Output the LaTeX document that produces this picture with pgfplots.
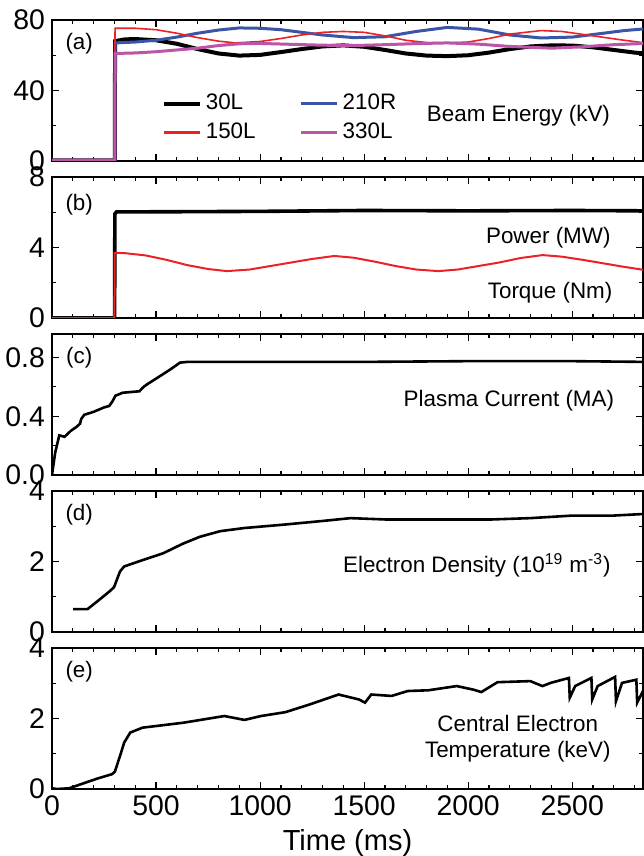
\documentclass[border=0pt]{standalone}
\usepackage{fontspec}
\setmainfont{Liberation Sans}
\usepackage{pgfplots}
\pgfplotsset{compat=1.18}

\definecolor{bred}{RGB}{237,32,36}
\definecolor{bblue}{RGB}{58,84,168}
\definecolor{bmag}{RGB}{188,84,168}

\pgfplotsset{
  panel/.style={
    scale only axis, width=295.5pt, height=70.5pt,
    xmin=0, xmax=2840,
    xtick={0,500,...,3000}, minor xtick={0,100,...,2800},
    xticklabels={},
    axis line style={line width=0.9pt},
    major tick length=3.5pt, minor tick length=2pt,
    tick style={line width=0.6pt, black},
    every tick label/.append style={font=\fontsize{14.2}{16}\selectfont},
    /pgf/number format/assume math mode=true,
  },
}
\tikzset{note/.style={font=\fontsize{11.2}{13}\selectfont}}

\begin{document}
\begin{tikzpicture}
\path[use as bounding box] (-26pt,-33.5pt) rectangle (295.8pt,394.5pt);

% (a) beam energy
\begin{axis}[panel, at={(0pt,314pt)},
  ymin=0, ymax=80, ytick={0,40,80}, minor ytick={20,60},
  legend columns=2,
  legend cell align=left,
  legend style={draw=none, fill=none, at={(0.175,0.305)}, anchor=west,
    font=\fontsize{11.2}{13.5}\selectfont, row sep=1pt,
    /tikz/every even column/.append style={column sep=20pt}},
  legend image code/.code={\draw[#1] (0pt,0pt) -- (18pt,0pt);},
]
\addplot[black, line width=2pt, forget plot] coordinates {
 (0,0.4) (302,0.4) (303,68) (350,69) (400,69.2) (500,68.5) (600,66.5) (700,63.5)
 (800,61) (900,59.8) (1000,60.2) (1100,61.8) (1200,63.5) (1300,65) (1400,65.6)
 (1500,64.8) (1600,63) (1700,61) (1800,59.8) (1900,59.5) (2000,60) (2100,61.5)
 (2200,63.5) (2300,65) (2400,65.6) (2500,65.5) (2600,64.5) (2700,63) (2800,61.5) (2850,61)};
\addplot[bblue, line width=1.5pt, forget plot] coordinates {
 (0,0.3) (302,0.3) (303,67) (400,67.5) (500,68.5) (600,70.3) (700,72.5) (800,74.3)
 (900,75.5) (1000,75.3) (1100,74.5) (1200,73) (1300,71.5) (1450,70) (1600,70.5)
 (1750,73.5) (1900,75.8) (2050,74.8) (2200,71.5) (2350,69.8) (2500,70.3)
 (2650,72.5) (2750,74) (2850,75)};
\addplot[bred, line width=0.8pt, forget plot] coordinates {
 (0,0.3) (302,0.3) (303,75.3) (400,75.3) (500,74.5) (600,72.5) (700,70) (800,68)
 (880,67) (1000,67.8) (1100,69.5) (1200,71.5) (1300,73) (1400,73.5) (1500,73)
 (1600,71) (1700,68.5) (1800,67.2) (1900,67) (2000,67.5) (2100,69.5) (2200,72)
 (2350,74) (2450,73.5) (2600,71) (2750,68.5) (2850,67)};
\addplot[bmag, line width=1.5pt, forget plot] coordinates {
 (0,0.5) (302,0.5) (303,61) (400,61.3) (500,62) (600,63) (700,64) (800,65.5)
 (900,66.5) (1000,66.7) (1150,66.2) (1300,65.7) (1450,65.5) (1600,66)
 (1750,66.6) (1900,67) (2050,66.3) (2200,65) (2400,64) (2550,64.8) (2700,66) (2850,66.7)};
\addlegendimage{black, line width=2pt}\addlegendentry{30L}
\addlegendimage{bblue, line width=1.5pt}\addlegendentry{210R}
\addlegendimage{bred, line width=1.3pt}\addlegendentry{150L}
\addlegendimage{bmag, line width=1.5pt}\addlegendentry{330L}
\node[note] at (rel axis cs:0.046,0.83) {(a)};
\node[note, anchor=east] at (rel axis cs:0.956,0.32) {Beam Energy (kV)};
\end{axis}

% (b) power and torque
\begin{axis}[panel, at={(0pt,235.5pt)},
  ymin=0, ymax=8, ytick={0,4,8}, minor ytick={2,6}]
\addplot[black, line width=1.8pt] coordinates {
 (0,0) (301,0) (302,5.9) (310,6.02) (600,6.03) (1000,6.05) (1500,6.1)
 (2000,6.08) (2500,6.1) (2850,6.08)};
\addplot[bred, line width=1pt] coordinates {
 (0,0) (300,0) (301,3.7) (350,3.68) (450,3.55) (550,3.3) (650,3.0) (750,2.78)
 (840,2.66) (950,2.75) (1050,2.95) (1150,3.15) (1250,3.35) (1357,3.52)
 (1450,3.42) (1550,3.2) (1650,2.95) (1750,2.75) (1857,2.66) (1950,2.75)
 (2050,2.95) (2150,3.15) (2250,3.4) (2357,3.57) (2450,3.48) (2550,3.3)
 (2650,3.1) (2750,2.9) (2850,2.72)};
\node[note] at (rel axis cs:0.046,0.80) {(b)};
\node[note, anchor=east] at (rel axis cs:0.957,0.57) {Power (MW)};
\node[note, anchor=east] at (rel axis cs:0.960,0.18) {Torque (Nm)};
\end{axis}

% (c) plasma current
\begin{axis}[panel, at={(0pt,157pt)},
  ymin=0, ymax=0.96, ytick={0,0.4,0.8}, minor ytick={0.2,0.6},
  yticklabel style={/pgf/number format/.cd, fixed, fixed zerofill, precision=1}]
\addplot[black, line width=1.3pt] coordinates {
 (0,0) (15,0.15) (35,0.27) (60,0.26) (90,0.30) (120,0.33) (135,0.35) (140,0.38)
 (155,0.41) (200,0.43) (250,0.46) (275,0.47) (290,0.50) (305,0.54) (340,0.56)
 (420,0.57) (440,0.60) (460,0.62) (510,0.665) (570,0.72) (615,0.765) (650,0.77)
 (1000,0.77) (1500,0.77) (2000,0.775) (2500,0.775) (2850,0.77)};
\node[note] at (rel axis cs:0.046,0.83) {(c)};
\node[note, anchor=east] at (rel axis cs:0.963,0.53) {Plasma Current (MA)};
\end{axis}

% (d) electron density
\begin{axis}[panel, at={(0pt,78.5pt)},
  ymin=0, ymax=4, ytick={0,2,4}, minor ytick={1,3}]
\addplot[black, line width=1.3pt] coordinates {
 (102,0.65) (171,0.65) (220,0.88) (278,1.16) (298,1.27) (327,1.72) (347,1.86)
 (416,2.0) (533,2.23) (631,2.51) (710,2.70) (808,2.86) (925,2.95) (1122,3.05)
 (1318,3.16) (1435,3.23) (1612,3.19) (1906,3.19) (2102,3.19) (2298,3.23)
 (2494,3.30) (2690,3.30) (2850,3.35)};
\node[note] at (rel axis cs:0.046,0.83) {(d)};
\node[note, anchor=east] at (rel axis cs:0.957,0.475) {Electron Density (10\textsuperscript{19} m\textsuperscript{-3})};
\end{axis}

% (e) central electron temperature
\begin{axis}[panel, at={(0pt,0pt)},
  ymin=0, ymax=4, ytick={0,2,4}, minor ytick={1,3},
  xticklabels={0,500,1000,1500,2000,2500},
  xlabel={Time (ms)},
  xlabel style={font=\fontsize{14.5}{16}\selectfont}]
\addplot[black, line width=1.3pt] coordinates {
 (0,0.02) (24,0.0) (82,0.02) (141,0.14) (220,0.30) (288,0.42) (302,0.49)
 (327,0.94) (347,1.32) (376,1.6) (435,1.74) (533,1.81) (631,1.88) (828,2.07)
 (925,1.96) (1004,2.07) (1122,2.18) (1239,2.40) (1377,2.68) (1475,2.54)
 (1504,2.45) (1534,2.68) (1632,2.64) (1710,2.78) (1808,2.80) (1945,2.92)
 (2024,2.82) (2063,2.75) (2141,3.03) (2298,3.06) (2357,2.92) (2396,3.01)
 (2484,3.15) (2488,2.59) (2514,2.92) (2592,3.15) (2596,2.54) (2622,2.92)
 (2706,3.18) (2710,2.49) (2739,3.01) (2808,3.10) (2812,2.45) (2850,2.9)};
\node[note] at (rel axis cs:0.046,0.83) {(e)};
\node[note, anchor=east, align=center] at (rel axis cs:0.957,0.355) {Central Electron\\Temperature (keV)};
\end{axis}
\end{tikzpicture}
\end{document}
